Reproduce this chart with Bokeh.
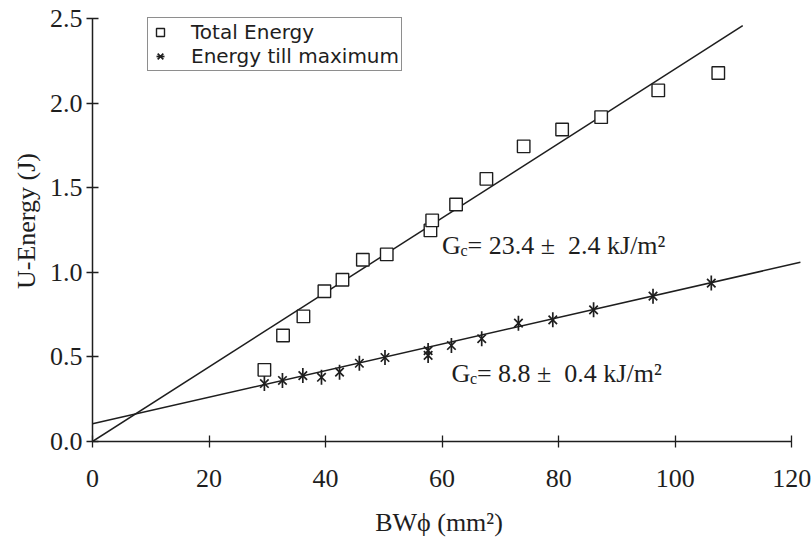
from bokeh.plotting import figure
from bokeh.models import Legend, LegendItem, Range1d, FixedTicker, NumeralTickFormatter
from bokeh.embed import file_html
from bokeh.resources import INLINE
from bokeh.core.properties import value
import math

# Total Energy (squares)
total_x = [29.5, 32.7, 36.2, 39.8, 42.9, 46.4, 50.5, 58.0, 58.3, 62.4, 67.6, 74.0, 80.6, 87.3, 97.1, 107.4]
total_y = [0.424, 0.627, 0.74, 0.889, 0.957, 1.075, 1.107, 1.249, 1.308, 1.402, 1.554, 1.746, 1.846, 1.919, 2.077, 2.18]

# Energy till maximum (stars)
max_x = [29.5, 32.6, 36.1, 39.3, 42.4, 45.8, 50.2, 57.6, 57.6, 61.6, 66.8, 73.1, 79.0, 86.0, 96.2, 106.2]
max_y = [0.343, 0.361, 0.39, 0.38, 0.41, 0.463, 0.497, 0.538, 0.509, 0.568, 0.608, 0.70, 0.72, 0.779, 0.86, 0.937]

# Fitted lines (end points)
total_fit_x = [0, 111.6]
total_fit_y = [0, 2.46]
max_fit_x = [0, 121.5]
max_fit_y = [0.105, 1.06]

# Annotations
ann_x = [60.0, 61.6]
ann_y = [1.16, 0.405]
ann_rest = ["= 23.4 \u00b1\u00a0 2.4 kJ/m\u00b2", "= 8.8 \u00b1\u00a0 0.4 kJ/m\u00b2"]

x_ticks = [0, 20, 40, 60, 80, 100, 120]
y_ticks = [0.0, 0.5, 1.0, 1.5, 2.0, 2.5]
x_title = "BW\u03d5 (mm\u00b2)"
y_title = "U-Energy (J)"

INK = "#1e1e1e"
SERIF = "Liberation Serif"

p = figure(width=811, height=548, x_range=Range1d(0, 123.4), y_range=Range1d(0, 2.609),
           output_backend="svg", toolbar_location=None,
           min_border_left=92, min_border_right=0, min_border_top=0, min_border_bottom=107)
p.background_fill_color = "white"
p.border_fill_color = "white"
p.outline_line_color = None
p.xgrid.visible = False
p.ygrid.visible = False

p.xaxis.ticker = FixedTicker(ticks=x_ticks)
p.yaxis.ticker = FixedTicker(ticks=y_ticks)
p.yaxis.formatter = NumeralTickFormatter(format="0.0")
p.xaxis.bounds = (0, 120)
p.yaxis.bounds = (0, 2.5)
for ax in (p.xaxis[0], p.yaxis[0]):
    ax.axis_line_color = INK
    ax.axis_line_width = 1.5
    ax.major_tick_line_color = INK
    ax.major_tick_line_width = 1.3
    ax.major_tick_in = 6
    ax.major_tick_out = 6
    ax.minor_tick_line_color = None
    ax.major_label_text_font = SERIF
    ax.major_label_text_font_size = "26px"
    ax.major_label_text_color = INK
    ax.axis_label_text_font = SERIF
    ax.axis_label_text_font_size = "26px"
    ax.axis_label_text_font_style = "normal"
    ax.axis_label_text_color = INK
p.xaxis[0].major_label_standoff = 22
p.yaxis[0].major_label_standoff = 4
p.yaxis[0].axis_label = y_title
p.yaxis[0].axis_label_standoff = 6
# trailing em space nudges the centred title under the 0..120 span of the axis
p.xaxis[0].axis_label = x_title + "\u2003"
p.xaxis[0].axis_label_standoff = 18

# fit lines
p.line(total_fit_x, total_fit_y, line_color=INK, line_width=1.5)
p.line(max_fit_x, max_fit_y, line_color=INK, line_width=1.5)

# markers
sq = p.scatter(total_x, total_y, marker="square", size=12.5, line_color=INK, line_width=1.4, fill_color="white")
st_x = p.scatter(max_x, max_y, marker="x", size=12, line_color=INK, line_width=1.7)
st_v = p.scatter(max_x, max_y, marker="dash", size=15, angle=math.pi / 2, line_color=INK, line_width=1.7)

# annotations: G, subscript c, rest
p.text(x=ann_x, y=ann_y, text=["G", "G"], text_font=value(SERIF), text_font_size="26px",
       text_baseline="alphabetic", text_color=INK)
p.text(x=ann_x, y=ann_y, text=["c", "c"], x_offset=18.5, y_offset=5, text_font=value(SERIF),
       text_font_size="16px", text_baseline="alphabetic", text_color=INK)
p.text(x=ann_x, y=ann_y, text=ann_rest, x_offset=25.5, text_font=value(SERIF), text_font_size="26px",
       text_baseline="alphabetic", text_color=INK)

legend = Legend(items=[LegendItem(label="Total Energy", renderers=[sq]),
                       LegendItem(label="Energy till maximum", renderers=[st_x, st_v])],
                location=(55, 370), orientation="vertical")
legend.label_text_font = "DejaVu Sans"
legend.label_text_font_size = "20px"
legend.label_text_color = INK
legend.glyph_width = 20
legend.glyph_height = 20
legend.label_height = 20
legend.label_standoff = 21
legend.spacing = 0
legend.padding = 2
legend.margin = 0
legend.border_line_color = INK
legend.border_line_width = 1.5
legend.background_fill_color = "white"
legend.background_fill_alpha = 1.0
p.add_layout(legend)

open("out.html", "w").write(file_html(p, INLINE))
